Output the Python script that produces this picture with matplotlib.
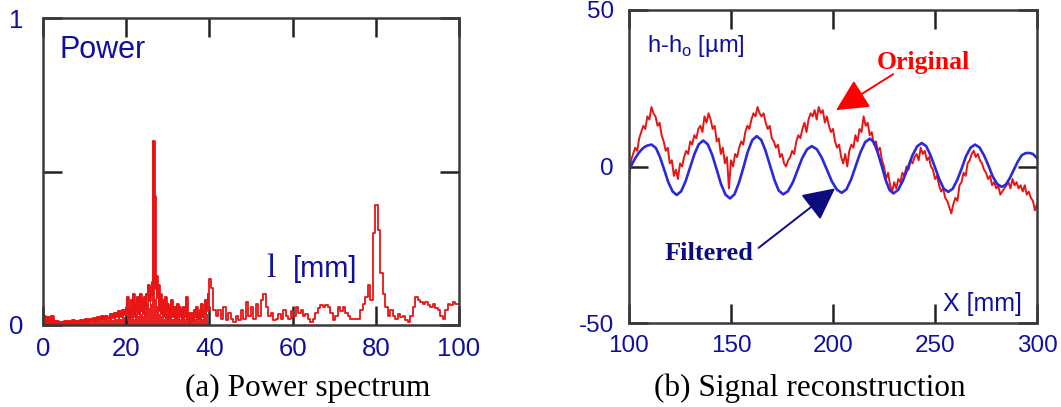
import numpy as np
import matplotlib
matplotlib.use("Agg")
import matplotlib.pyplot as plt

plt.rcParams['font.family'] = ['Liberation Sans', 'DejaVu Sans']
plt.rcParams['mathtext.fontset'] = 'custom'
plt.rcParams['mathtext.rm'] = 'Liberation Sans'

# ---------------- data: (a) power spectrum ----------------
lam_a = np.arange(0.25, 20.0, 0.5)          # 40 pts
pow_a = [0.03, 0.01, 0.025, 0.005, 0.03, 0.008, 0.012, 0.006, 0.01, 0.009,
         0.012, 0.007, 0.013, 0.01, 0.015, 0.009, 0.014, 0.012, 0.016, 0.011,
         0.018, 0.013, 0.02, 0.015, 0.022, 0.017, 0.025, 0.018, 0.028, 0.02,
         0.03, 0.022, 0.035, 0.025, 0.04, 0.03, 0.045, 0.028, 0.05, 0.035]
lam_b = np.arange(20.0, 40.0, 0.25)         # 80 pts
pow_b = [0.04, 0.09, 0.02, 0.06, 0.03, 0.08, 0.04, 0.10, 0.03, 0.07,
         0.05, 0.09, 0.04, 0.06, 0.10, 0.05, 0.08, 0.04, 0.09, 0.06,
         0.10, 0.13, 0.08, 0.12, 0.10, 0.14, 0.60, 0.42, 0.12, 0.16,
         0.09, 0.13, 0.05, 0.10, 0.04, 0.08, 0.06, 0.03, 0.09, 0.05,
         0.07, 0.02, 0.06, 0.04, 0.08, 0.03, 0.06, 0.05, 0.02, 0.07,
         0.04, 0.06, 0.03, 0.05, 0.02, 0.06, 0.04, 0.03, 0.09, 0.02,
         0.04, 0.01, 0.02, 0.04, 0.015, 0.03, 0.05, 0.03, 0.06, 0.04,
         0.02, 0.05, 0.07, 0.03, 0.05, 0.04, 0.08, 0.06, 0.05, 0.10]
lam_c = np.linspace(40.0, 100.0, 101)        # 101 pts
pow_c = [0.15, 0.12, 0.05, 0.03, 0.05, 0.02, 0.06, 0.015, 0.04, 0.02,
         0.01, 0.03, 0.015, 0.05, 0.02, 0.075, 0.03, 0.06, 0.02, 0.07,
         0.03, 0.08, 0.10, 0.06, 0.03, 0.04, 0.015, 0.02, 0.035, 0.02,
         0.05, 0.03, 0.02, 0.045, 0.03, 0.06, 0.04, 0.05, 0.03, 0.035,
         0.02, 0.01, 0.02, 0.04, 0.055, 0.065, 0.06, 0.065, 0.06, 0.04,
         0.015, 0.03, 0.06, 0.045, 0.06, 0.04, 0.03, 0.02, 0.02, 0.02,
         0.02, 0.05, 0.07, 0.09, 0.13, 0.08, 0.30, 0.39, 0.31, 0.17,
         0.10, 0.06, 0.03, 0.05, 0.03, 0.02, 0.035, 0.025, 0.03, 0.015,
         0.01, 0.03, 0.06, 0.09, 0.08, 0.075, 0.07, 0.075, 0.065, 0.06,
         0.07, 0.055, 0.05, 0.03, 0.02, 0.05, 0.07, 0.065, 0.075, 0.07,
         0.07]
lam = np.concatenate([lam_a, lam_b, lam_c])
power = np.array(pow_a + pow_b + pow_c)
lam_dense = np.concatenate([lam_a, lam_b])
power_dense = np.array(pow_a + pow_b)

# ---------------- data: (b) signal reconstruction ----------------
x_orig = np.arange(100, 301)
h_orig = [-5, 2, 4, 6, 5, 9, 11, 13, 12, 16,
          15, 19, 17, 16, 13, 14, 10, 8, 5, 6,
          1, 2, -3, -1, -4, 1, 0, 3, 5, 4,
          8, 7, 10, 9, 12, 13, 11, 16, 14, 17,
          15, 12, 13, 8, 9, 4, 6, 1, 3, -7,
          2, 0, 4, 3, 6, 8, 7, 11, 13, 12,
          15, 17, 16, 19, 17, 16, 17, 14, 12, 13,
          9, 8, 6, 7, 3, 4, 1, 0, 2, 3,
          5, 4, 8, 10, 9, 12, 14, 11, 15, 17,
          16, 18, 15, 19, 17, 18, 14, 16, 13, 11,
          12, 8, 6, 7, 3, 1, 4, 0, 5, 7,
          6, 10, 8, 12, 11, 16, 13, 14, 10, 11,
          7, 8, 5, 6, 2, 0, -4, -2, -6, -8,
          -5, -7, -4, -5, -2, -3, 0, -1, 2, 1,
          3, 4, 2, 6, 4, 5, 2, 3, 0, -1,
          -4, -3, -6, -8, -7, -10, -11, -13, -15, -12,
          -10, -11, -6, -5, -2, -3, 1, 2, 4, 5,
          3, 4, 2, 1, -1, -2, -4, -3, -6, -5,
          -7, -6, -9, -8, -7, -6, -5, -7, -4, -6,
          -5, -7, -6, -8, -6, -9, -8, -10, -11, -14,
          -12]

x_filt = [100.0, 101.5, 103.0, 104.5, 106.0, 107.5, 109.0, 111.1,
          113.2, 115.2, 117.3, 119.3, 121.4, 123.4,
          125.6, 127.7, 129.9, 132.1, 134.2, 136.4,
          138.6, 140.8, 143.0, 145.1, 147.3, 149.5,
          151.7, 153.9, 156.1, 158.2, 160.4, 162.6,
          164.8, 166.9, 169.1, 171.3, 173.4, 175.6,
          177.9, 180.3, 182.6, 184.9, 187.3, 189.6,
          192.1, 194.5, 197.0, 199.4, 201.9, 204.3,
          206.6, 208.9, 211.2, 213.5, 215.8, 218.1,
          220.0, 221.9, 223.9, 225.8, 227.7, 229.6,
          231.9, 234.2, 236.6, 238.9, 241.2, 243.5,
          245.7, 247.8, 250.0, 252.2, 254.3, 256.5,
          258.7, 260.9, 263.1, 265.2, 267.4, 269.6,
          271.8, 274.0, 276.2, 278.3, 280.5, 282.7,
          284.7, 286.6, 288.6, 290.6, 292.5, 294.5,
          296.5, 298.0, 300.0]
h_filt = [-1.1, 0.8, 2.6, 4.1, 5.3, 6.2, 6.7, 7.0,
          5.9, 3.0, -1.1, -5.1, -8.0, -9.1,
          -7.9, -4.8, -0.4, 4.0, 7.1, 8.3,
          7.1, 3.7, -1.0, -5.6, -9.0, -10.2,
          -8.9, -5.2, -0.3, 4.7, 8.4, 9.7,
          8.5, 5.1, 0.4, -4.3, -7.7, -8.9,
          -7.9, -5.1, -1.2, 2.7, 5.5, 6.5,
          5.5, 2.8, -1.0, -4.7, -7.4, -8.4,
          -7.3, -4.1, 0.3, 4.6, 7.8, 8.9,
          7.8, 4.5, 0.2, -4.3, -7.5, -8.6,
          -7.5, -4.6, -0.6, 3.5, 6.4, 7.5,
          6.5, 3.6, -0.3, -4.2, -7.1, -8.1,
          -7.1, -4.3, -0.6, 3.3, 6.0, 7.0,
          6.1, 3.6, 0.3, -3.2, -5.6, -6.5,
          -5.8, -3.8, -1.1, 1.6, 3.6, 4.3,
          4.3, 4.0, 2.7]

xt_a = [0, 20, 40, 60, 80, 100]
yt_a = [0, 0.5, 1]
yl_a = ['0', '', '1']
xt_b = [100, 150, 200, 250, 300]
yt_b = [-50, 0, 50]
yl_b = ['-50', '0', '50']

# ---------------- figure ----------------
W, H = 1061, 407
fig = plt.figure(figsize=(W / 100, H / 100), dpi=100)
navy = '#10109c'
red = '#e81515'
blue = '#2a2ad8'

def fx(px):
    return px / W

def fy(py):
    return 1 - py / H

axa = fig.add_axes([fx(43), fy(325), fx(459 - 43), (325 - 18) / H])
axb = fig.add_axes([fx(629), fy(323), fx(1037 - 629), (323 - 10) / H])

for ax in (axa, axb):
    for s in ax.spines.values():
        s.set_color('#3a3a3a')
        s.set_linewidth(1.8)
    ax.tick_params(direction='in', length=14, width=1.8, color='#222222',
                   top=True, right=True, labelcolor=navy)

axa.fill_between(lam_dense, 0, power_dense * 0.7, step='mid', color=red,
                 lw=0, alpha=0.95)
axa.plot(lam_dense, power_dense, drawstyle='steps-mid', color=red, lw=2.0)
axa.plot(lam, power, drawstyle='steps-mid', color=red, lw=1.3)
axa.set_xlim(0, 100)
axa.set_ylim(0, 1)
axa.set_xticks(xt_a)
axa.set_xticklabels([str(v) for v in xt_a])
axa.set_yticks(yt_a)
axa.set_yticklabels(yl_a)
axa.tick_params(axis='both', labelsize=18.5)
axa.tick_params(axis='x', pad=9)
axa.tick_params(axis='y', pad=14)

axb.plot(x_orig, h_orig, color=red, lw=1.4)
axb.plot(x_filt, h_filt, color=blue, lw=1.9)
axb.set_xlim(100, 300)
axb.set_ylim(-50, 50)
axb.set_xticks(xt_b)
axb.set_xticklabels([str(v) for v in xt_b])
axb.set_yticks(yt_b)
axb.set_yticklabels(yl_b)
axb.tick_params(axis='both', labelsize=17.5)
axb.tick_params(axis='x', pad=9)
axb.tick_params(axis='y', pad=11)

# annotations
fig.text(fx(60), fy(58), 'Power', color=navy, fontsize=22, va='baseline')
fig.text(fx(266), fy(277), 'l', color=navy, fontsize=24, va='baseline',
         family='Liberation Serif')
fig.text(fx(293), fy(277), '[mm]', color=navy, fontsize=21, va='baseline')
fig.text(fx(647), fy(52), r'h-h$_{\mathregular{o}}$ [µm]', color=navy,
         fontsize=17, va='baseline')
fig.text(fx(943), fy(311), 'X [mm]', color=navy, fontsize=18, va='baseline')
fig.text(fx(877), fy(69), 'Original', color='#ff0000', fontsize=18.5,
         va='baseline', family='Liberation Serif', weight='bold')
fig.text(fx(665), fy(260), 'Filtered', color='#0c0c80', fontsize=19,
         va='baseline', family='Liberation Serif', weight='bold')

axb.annotate('', xy=(201.5, 18.0), xytext=(229.5, 29.5),
             arrowprops=dict(arrowstyle='-|>,head_length=0.9,head_width=0.45',
                             color='#ff0000', lw=1.4, mutation_scale=22,
                             shrinkA=0, shrinkB=0))
axb.annotate('', xy=(201.0, -7.0), xytext=(163.5, -26.0),
             arrowprops=dict(arrowstyle='-|>,head_length=0.9,head_width=0.45',
                             color='#0c0c80', lw=1.4, mutation_scale=22,
                             shrinkA=0, shrinkB=0))

fig.text(fx(308), fy(396), '(a) Power spectrum', color='black', fontsize=22.5,
         ha='center', va='baseline', family='Liberation Serif')
fig.text(fx(809.5), fy(396), '(b) Signal reconstruction', color='black',
         fontsize=22.5, ha='center', va='baseline', family='Liberation Serif')

fig.savefig('out.png', dpi=100, facecolor='white')
